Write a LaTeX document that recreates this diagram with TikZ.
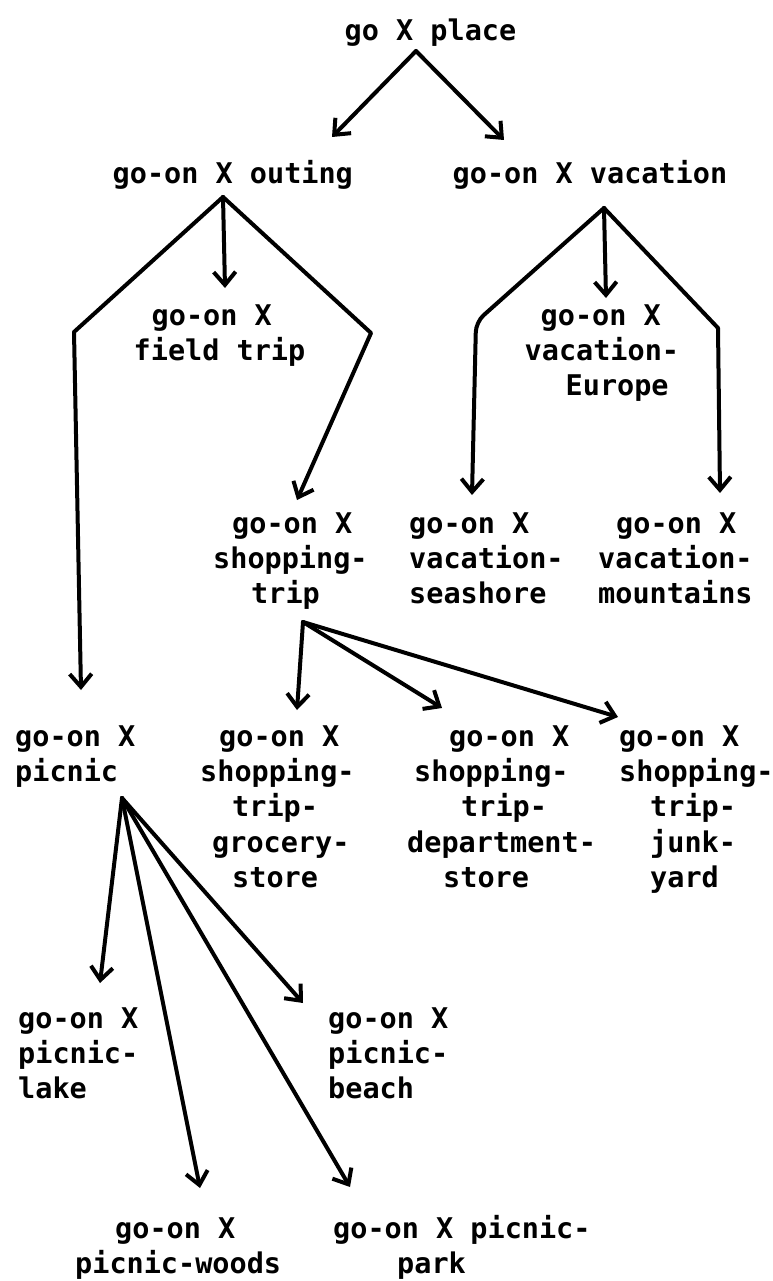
\documentclass[tikz,border=0pt]{standalone}
\usepackage{fontspec}
\setmonofont{DejaVu Sans Mono}
\usetikzlibrary{arrows.meta}
\newcommand{\fl}{\rule{0pt}{24pt}}
\begin{document}
\begin{tikzpicture}[x=1pt,y=-1pt,
  lbl/.style={anchor=north west, inner sep=0pt, align=left,
    font=\fontsize{28.5}{35.3}\selectfont\ttfamily\bfseries},
  conn/.style={draw, line width=4pt, -{Straight Barb[length=13pt,width=22pt,line width=4pt]},
    line join=round, line cap=round}]
\useasboundingbox (0,0) rectangle (772,1281);

% nodes
\node[lbl] (place) at (344.5,16) {\fl go X place};
\node[lbl] (outing) at (112.5,159) {\fl go-on X outing};
\node[lbl] (vacation) at (452.5,159) {\fl go-on X vacation};
\node[lbl] (fieldtrip) at (133.5,301) {\fl\hspace*{18pt}go-on X\\field trip};
\node[lbl] (europe) at (524.5,301) {\fl\hspace*{16pt}go-on X\\vacation-\\\hspace*{41pt}Europe};
\node[lbl] (shopping) at (213,509) {\fl\hspace*{19pt}go-on X\\shopping-\\\hspace*{38pt}trip};
\node[lbl] (seashore) at (409,509) {\fl go-on X\\vacation-\\seashore};
\node[lbl] (mountains) at (598,509) {\fl\hspace*{18pt}go-on X\\vacation-\\mountains};
\node[lbl] (picnic) at (15,722) {\fl go-on X\\picnic};
\node[lbl] (grocery) at (200,722) {\fl\hspace*{19pt}go-on X\\shopping-\\\hspace*{32pt}trip-\\\hspace*{12pt}grocery-\\\hspace*{32pt}store};
\node[lbl] (department) at (407,722) {\fl\hspace*{42pt}go-on X\\\hspace*{7pt}shopping-\\\hspace*{54pt}trip-\\department-\\\hspace*{36pt}store};
\node[lbl] (junkyard) at (619,722) {\fl go-on X\\shopping-\\\hspace*{31pt}trip-\\\hspace*{31pt}junk-\\\hspace*{31pt}yard};
\node[lbl] (lake) at (18,1004) {\fl go-on X\\picnic-\\lake};
\node[lbl] (beach) at (328,1004) {\fl go-on X\\picnic-\\beach};
\node[lbl] (woods) at (75,1214) {\fl\hspace*{40pt}go-on X\\picnic-woods};
\node[lbl] (park) at (333,1214) {\fl go-on X picnic-\\\hspace*{64pt}park};

% connector points
\coordinate (place-out) at (416,51);
\coordinate (outing-in) at (332,137);
\coordinate (vacation-in) at (504,140);
\coordinate (outing-out) at (223,197);
\coordinate (fieldtrip-in) at (225,288);
\coordinate (outing-bendL) at (74,332);
\coordinate (picnic-in) at (81,690);
\coordinate (outing-bendR) at (371,333);
\coordinate (shopping-in) at (297,500);
\coordinate (vacation-out) at (604,208);
\coordinate (europe-in) at (606,298);
\coordinate (vacation-bendL) at (476,322);
\coordinate (seashore-in) at (472,495);
\coordinate (vacation-bendR) at (718,328);
\coordinate (mountains-in) at (720,493);
\coordinate (shopping-out) at (303,622);
\coordinate (grocery-in) at (297,710);
\coordinate (department-in) at (442,708);
\coordinate (junkyard-in) at (618,717);
\coordinate (picnic-out) at (122,798);
\coordinate (lake-in) at (100,983);
\coordinate (beach-in) at (303,1003);
\coordinate (woods-in) at (200,1188);
\coordinate (park-in) at (350,1187);

% connectors
\draw[conn] (place-out) -- (outing-in);
\draw[conn] (place-out) -- (vacation-in);
\draw[conn] (outing-out) -- (fieldtrip-in);
\draw[conn] (outing-out) -- (outing-bendL) -- (picnic-in);
\draw[conn] (outing-out) -- (outing-bendR) -- (shopping-in);
\draw[conn] (vacation-out) -- (europe-in);
\draw[conn, rounded corners=10pt] (vacation-out) -- (vacation-bendL) -- (seashore-in);
\draw[conn] (vacation-out) -- (vacation-bendR) -- (mountains-in);
\draw[conn] (shopping-out) -- (grocery-in);
\draw[conn] (shopping-out) -- (department-in);
\draw[conn] (shopping-out) -- (junkyard-in);
\draw[conn] (picnic-out) -- (lake-in);
\draw[conn] (picnic-out) -- (beach-in);
\draw[conn] (picnic-out) -- (woods-in);
\draw[conn] (picnic-out) -- (park-in);
\end{tikzpicture}
\end{document}
